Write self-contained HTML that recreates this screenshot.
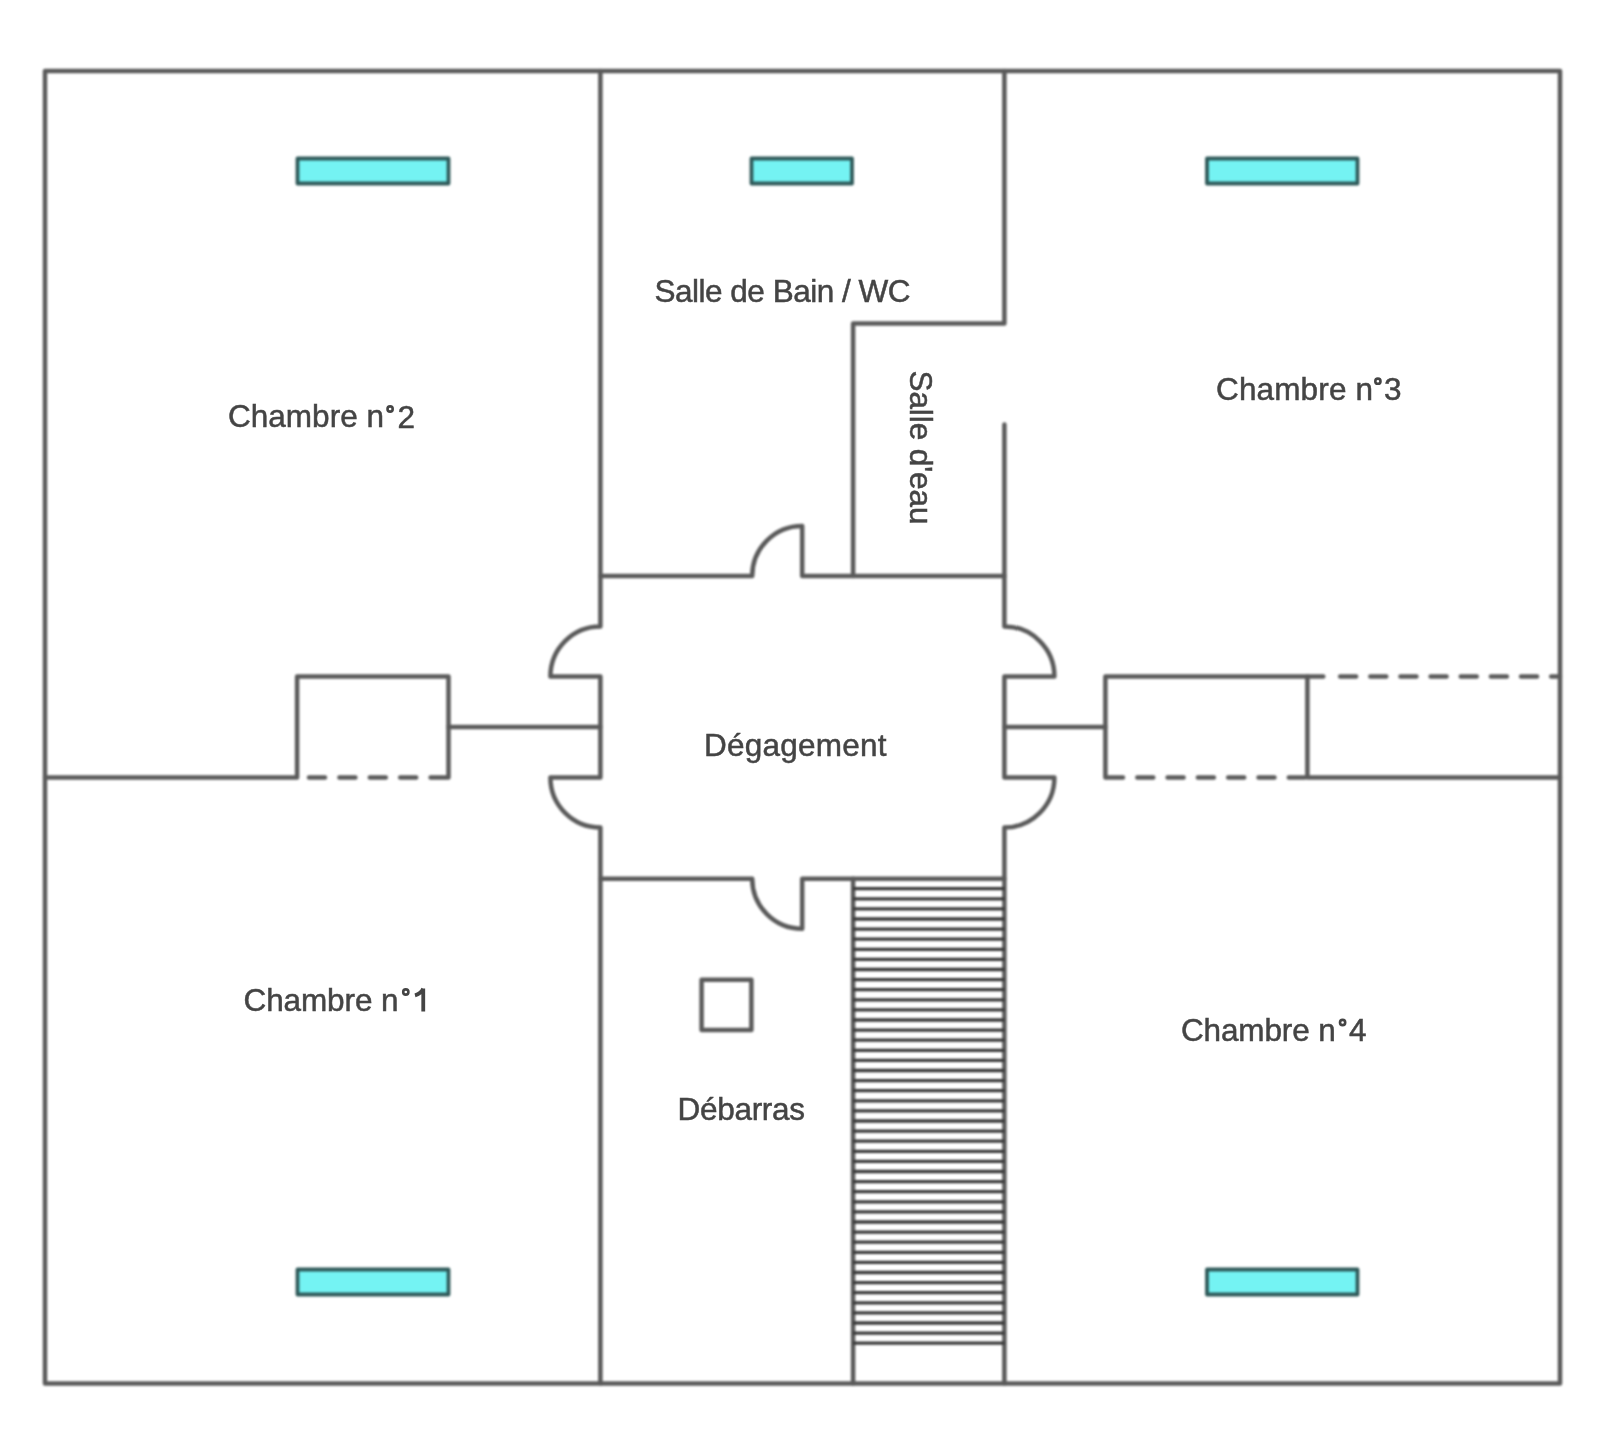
<!DOCTYPE html>
<html><head><meta charset="utf-8">
<style>
html,body{margin:0;padding:0;background:#fff;}
body{width:1600px;height:1446px;overflow:hidden;position:relative;}
svg{position:absolute;left:0;top:0;}
text{font-family:"Liberation Sans",sans-serif;font-size:31.5px;fill:#444;stroke:#444;stroke-width:0.5px;}
svg{filter:blur(1px);}
svg.t{filter:blur(0.6px);}
</style></head>
<body>
<svg width="1600" height="1446" viewBox="0 0 1600 1446">
<g fill="none" stroke="#5a5a5a" stroke-width="4.5" stroke-linejoin="round" stroke-linecap="round">
  <path d="M45 71H1560V1383.4H45Z"/>
  <path d="M600.4 71V626.4 A50 50 0 0 0 550.4 676.4 H600.4 V777.6 H550.4 A50 50 0 0 0 600.4 827.6 V1383.4"/>
  <path d="M1004.4 71V323.4H853.1V576.0"/>
  <path d="M1004.4 424.5V626.4 A50 50 0 0 1 1054.4 676.4 H1004.4 V777.6 H1054.4 A50 50 0 0 1 1004.4 827.6 V1383.4"/>
  <path d="M600.4 576.0H752.2 A50 50 0 0 1 802.2 526.0 V576.0 H1004.4"/>
  <path d="M600.4 878.7H752.2 A50 50 0 0 0 802.2 928.7 V878.7 H1004.4"/>
  <path d="M853.1 878.7V1383.4"/>
  <path d="M45 777.6H297.1V676.4H448.5V777.6"/>
  <path d="M448.5 727.1H600.4"/>
  <path d="M1004.4 727.1H1105.4"/>
  <path d="M1105.4 777.6V676.4H1323.3"/>
  <path d="M1307.4 676.4V777.6H1560"/>
  <rect x="701.6" y="979.8" width="49.8" height="50.2"/>
</g>
<g fill="none" stroke="#5a5a5a" stroke-width="4.5" stroke-linecap="round">
  <path d="M309 777.6H448.5" stroke-dasharray="16 14.4"/>
  <path d="M1107 777.6H1307.4" stroke-dasharray="16 14.3"/>
  <path d="M1340.15 676.4H1560" stroke-dasharray="16 14.15"/>
</g>
<g stroke="#383838" stroke-width="3.3">
  <path d="M853.1 888.70H1004.4M853.1 898.80H1004.4M853.1 908.90H1004.4M853.1 919.00H1004.4M853.1 929.10H1004.4M853.1 939.20H1004.4M853.1 949.30H1004.4M853.1 959.40H1004.4M853.1 969.50H1004.4M853.1 979.60H1004.4M853.1 989.70H1004.4M853.1 999.80H1004.4M853.1 1009.90H1004.4M853.1 1020.00H1004.4M853.1 1030.10H1004.4M853.1 1040.20H1004.4M853.1 1050.30H1004.4M853.1 1060.40H1004.4M853.1 1070.50H1004.4M853.1 1080.60H1004.4M853.1 1090.70H1004.4M853.1 1100.80H1004.4M853.1 1110.90H1004.4M853.1 1121.00H1004.4M853.1 1131.10H1004.4M853.1 1141.20H1004.4M853.1 1151.30H1004.4M853.1 1161.40H1004.4M853.1 1171.50H1004.4M853.1 1181.60H1004.4M853.1 1191.70H1004.4M853.1 1201.80H1004.4M853.1 1211.90H1004.4M853.1 1222.00H1004.4M853.1 1232.10H1004.4M853.1 1242.20H1004.4M853.1 1252.30H1004.4M853.1 1262.40H1004.4M853.1 1272.50H1004.4M853.1 1282.60H1004.4M853.1 1292.70H1004.4M853.1 1302.80H1004.4M853.1 1312.90H1004.4M853.1 1323.00H1004.4M853.1 1333.10H1004.4M853.1 1343.20H1004.4"/>
</g>
<g fill="#74f3f3" stroke="#2f5a5a" stroke-width="3.8" stroke-linejoin="round">
  <rect x="297.5" y="158.5" width="151" height="25"/>
  <rect x="751.5" y="158.5" width="100.5" height="25"/>
  <rect x="1207" y="158.5" width="150.5" height="25"/>
  <rect x="297.5" y="1269.5" width="151" height="25"/>
  <rect x="1207" y="1269.5" width="150.5" height="25"/>
</g>
</svg>
<svg class="t" width="1600" height="1446" viewBox="0 0 1600 1446">
<!--TEXT-->
<text x="228.00" y="427.40" textLength="156.00" lengthAdjust="spacing">Chambre n</text>
<text x="1216.00" y="399.50" textLength="157.00" lengthAdjust="spacing">Chambre n</text>
<text x="243.50" y="1011.30" textLength="155.00" lengthAdjust="spacing">Chambre n</text>
<text x="1181.00" y="1041.30" textLength="154.75" lengthAdjust="spacing">Chambre n</text>
<text x="704.00" y="755.80" textLength="182.50" lengthAdjust="spacing">Dégagement</text>
<text x="677.50" y="1119.50" textLength="127.50" lengthAdjust="spacing">Débarras</text>
<text x="654.50" y="301.60" textLength="256.00" lengthAdjust="spacing">Salle de Bain / WC</text>
<text transform="translate(909.60 370.50) rotate(90)" x="0" y="0" textLength="154.00" lengthAdjust="spacing">Salle d'eau</text>
<text x="397.50" y="427.60">2</text>
<text x="1384.00" y="399.50">3</text>
<text x="1349.00" y="1041.40">4</text>
<g fill="none" stroke="#444" stroke-width="2.6"><circle cx="390.1" cy="409.0" r="2.6"/><circle cx="1377.9" cy="381.2" r="2.6"/><circle cx="1342.6" cy="1022.5" r="2.6"/><circle cx="405.8" cy="992.0" r="2.6"/></g>
<path d="M423.25 1011.6V988.6M423.25 988.6C421.5 992.5 418 994.5 415 995.3" fill="none" stroke="#444" stroke-width="3.8"/>
<!--/TEXT-->
</svg>
</body></html>
